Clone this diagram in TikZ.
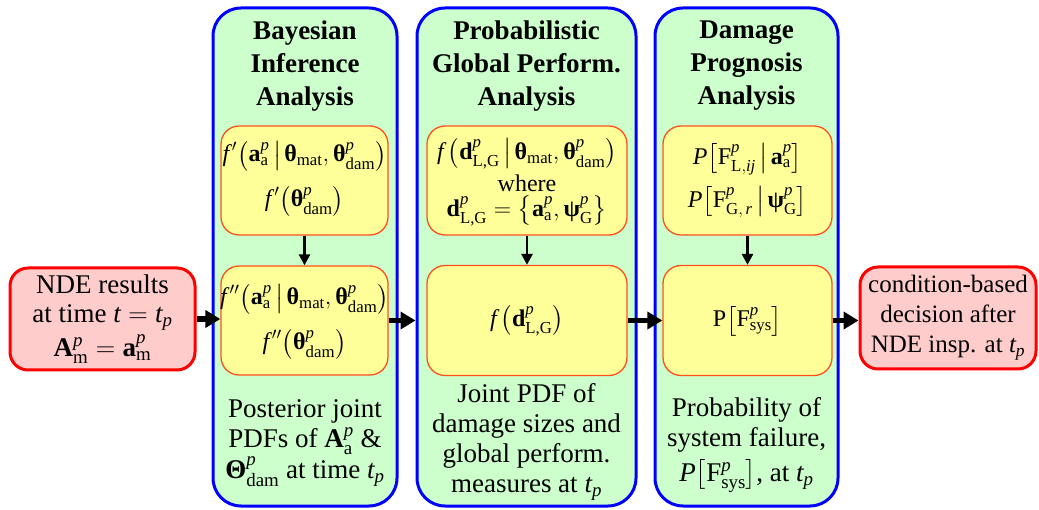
\RequirePackage{fix-cm}
\documentclass[tikz,border=0pt]{standalone}
\usepackage{amsmath}
\usepackage{fontspec}
\setmainfont{Liberation Serif}
\usetikzlibrary{arrows.meta}

\definecolor{panelfill}{RGB}{204,255,204}
\definecolor{paneledge}{RGB}{0,0,255}
\definecolor{yelfill}{RGB}{255,255,153}
\definecolor{yeledge}{RGB}{255,80,30}
\definecolor{redfill}{RGB}{255,204,204}
\definecolor{rededge}{RGB}{255,0,0}

% math pieces set in the text font
\newcommand{\mI}[1]{\text{\normalfont\itshape #1}}
\newcommand{\mB}[1]{\text{\normalfont\bfseries #1}}
\newcommand{\mR}[1]{\text{\normalfont #1}}
\newcommand{\pp}{^{\mI{p}}}
\newcommand{\given}{\mskip3mu\big|\mskip2mu}

\tikzset{
  panel/.style={draw=paneledge, fill=panelfill, line width=3pt, rounded corners=28pt},
  ybox/.style={draw=yeledge, fill=yelfill, line width=1.3pt, rounded corners=18pt, inner sep=0pt},
  mline/.style={inner sep=0pt, font=\fontsize{24}{29}\selectfont},
  rbox/.style={draw=rededge, fill=redfill, line width=3pt, rounded corners=18pt,
    align=center, inner sep=0pt},
  ttl/.style={align=center, font=\fontsize{27}{33}\selectfont\bfseries},
  caption/.style={align=center, font=\fontsize{27}{30}\selectfont},
  bigarrow/.style={line width=5.5pt, -{Triangle[length=15pt,width=17pt]}},
  smallarrow/.style={line width=2.6pt, -{Triangle[length=11pt,width=11pt]}}
}

\begin{document}
\begin{tikzpicture}[x=1pt,y=-1pt]
\useasboundingbox (0,0) rectangle (1039,510);

% three analysis stages
\node[panel, minimum width=184pt, minimum height=498pt] (p1) at (305,257) {};
\node[panel, minimum width=219pt, minimum height=498pt] (p2) at (526.5,257) {};
\node[panel, minimum width=183pt, minimum height=498pt] (p3) at (746.5,257) {};

\node[ttl] (t1) at (305,66) {Bayesian\\Inference\\Analysis};
\node[ttl] (t2) at (526.5,66) {Probabilistic\\Global Perform.\\Analysis};
\node[ttl] (t3) at (746.5,66) {Damage\\Prognosis\\Analysis};

% Bayesian inference
\node[ybox, minimum width=167pt, minimum height=109pt] (y1a) at (304.5,180.5) {};
\node[mline] (y1a1) at (304.5,156)
  {$\mI{f}^{\,\prime}\bigl(\mB{a}\pp_{\mR{a}}\given\mB{θ}_{\mR{mat}},\mB{θ}\pp_{\mR{dam}}\bigr)$};
\node[mline] (y1a2) at (304.5,201)
  {$\mI{f}^{\,\prime}\bigl(\mB{θ}\pp_{\mR{dam}}\bigr)$};
\node[ybox, minimum width=167pt, minimum height=109pt] (y1b) at (304.5,320.5) {};
\node[mline] (y1b1) at (304.5,299)
  {$\mI{f}^{\,\prime\prime}\bigl(\mB{a}\pp_{\mR{a}}\given\mB{θ}_{\mR{mat}},\mB{θ}\pp_{\mR{dam}}\bigr)$};
\node[mline] (y1b2) at (304.5,344)
  {$\mI{f}^{\,\prime\prime}\bigl(\mB{θ}\pp_{\mR{dam}}\bigr)$};
\node[caption] (c1) at (305,443)
  {Posterior joint\\PDFs of $\mB{A}\pp_{\mR{a}}$ \&\\[1pt]$\mB{Θ}\pp_{\mR{dam}}$ at time $\mI{t}_{\mI{p}}$};

% global performance
\node[ybox, minimum width=200pt, minimum height=109pt] (y2a) at (527,180.5) {};
\node[mline] (y2a1) at (527,154)
  {$\mI{f}\,\bigl(\mB{d}\pp_{\mR{L,G}}\given\mB{θ}_{\mR{mat}},\mB{θ}\pp_{\mR{dam}}\bigr)$};
\node[mline] (y2a2) at (527,183) {where};
\node[mline] (y2a3) at (527,211)
  {$\mB{d}\pp_{\mR{L,G}}=\bigl\{\mB{a}\pp_{\mR{a}},\mB{ψ}\pp_{\mR{G}}\bigr\}$};
\node[ybox, minimum width=200pt, minimum height=110pt] (y2b) at (527,320.5) {};
\node[mline] (y2b1) at (527,321)
  {$\mI{f}\,\bigl(\mB{d}\pp_{\mR{L,G}}\bigr)$};
\node[caption] (c2) at (526.5,442)
  {Joint PDF of\\damage sizes and\\global perform.\\measures at $\mI{t}_{\mI{p}}$};

% damage prognosis
\node[ybox, minimum width=169pt, minimum height=109pt] (y3a) at (747.5,180.5) {};
\node[mline] (y3a1) at (747.5,159)
  {$\mI{P}\bigl[\mR{F}\pp_{\mR{L},\mI{ij}}\given\mB{a}\pp_{\mR{a}}\bigr]$};
\node[mline] (y3a2) at (747.5,202)
  {$\mI{P}\bigl[\mR{F}\pp_{\mR{G},\,\mI{r}}\given\mB{ψ}\pp_{\mR{G}}\bigr]$};
\node[ybox, minimum width=169pt, minimum height=110pt] (y3b) at (747.5,320.5) {};
\node[mline] (y3b1) at (747.5,321)
  {$\mR{P}\bigl[\mR{F}\pp_{\mR{sys}}\bigr]$};
\node[caption] (c3) at (746.5,445)
  {Probability of\\system failure,\\[5pt]$\mI{P}\bigl[\mR{F}\pp_{\mR{sys}}\bigr]$, at $\mI{t}_{\mI{p}}$};

% input and output
\node[rbox, minimum width=185pt, minimum height=102pt, font=\fontsize{27}{29}\selectfont] (rl) at (102.5,319)
  {NDE results\\at time $\mI{t}=\mI{t}_{\mI{p}}$\\[3pt]$\mB{A}\pp_{\mR{m}}=\mB{a}\pp_{\mR{m}}$};
\node[rbox, minimum width=176pt, minimum height=102pt, font=\fontsize{25}{30}\selectfont] (rr) at (948,318)
  {condition-based\\decision after\\NDE insp. at $\mI{t}_{\mI{p}}$};

% flow
\draw[smallarrow] (y1a.south) -- (y1b.north);
\draw[smallarrow] (y2a.south) -- (y2b.north);
\draw[smallarrow] (y3a.south) -- (y3b.north);

\draw[bigarrow] (rl.east) -- (rl.east -| y1b.west);
\draw[bigarrow] (y1b.east) -- (y1b.east -| p2.west);
\draw[bigarrow] (y2b.east) -- (y2b.east -| y3b.west);
\draw[bigarrow] (y3b.east) -- (y3b.east -| rr.west);
\end{tikzpicture}
\end{document}
